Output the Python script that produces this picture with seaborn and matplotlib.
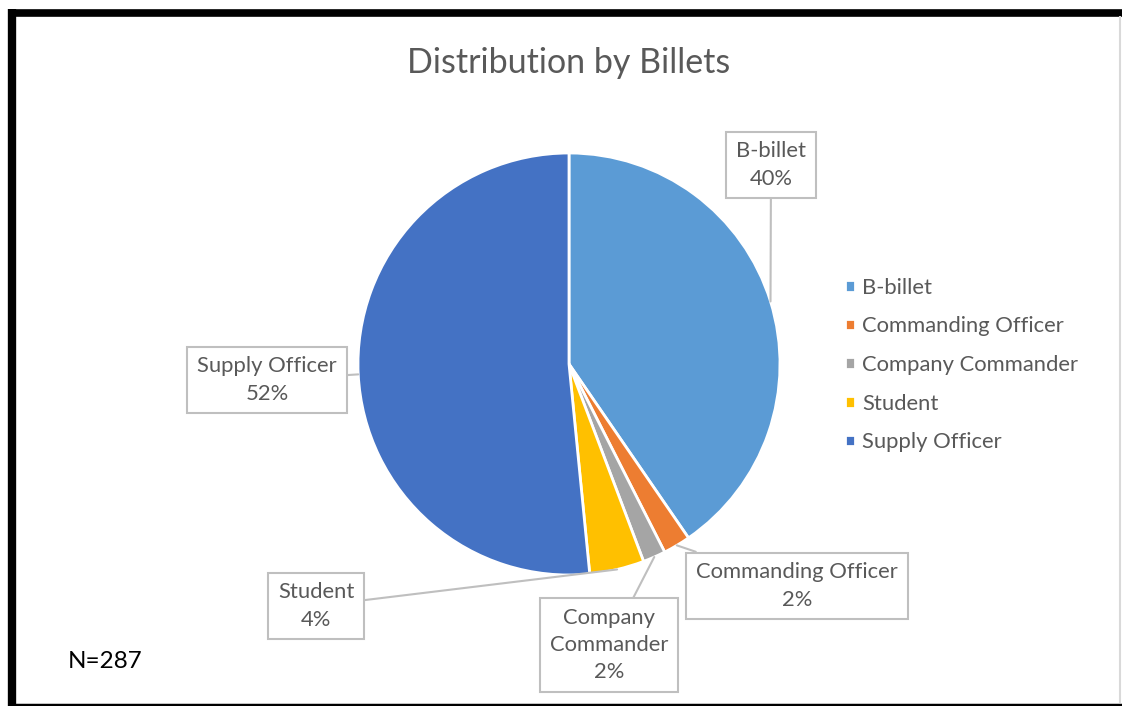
import matplotlib
matplotlib.use("Agg")
import matplotlib.pyplot as plt
from matplotlib.lines import Line2D
import numpy as np
import seaborn as sns

# data
billets = ['B-billet', 'Commanding Officer', 'Company Commander', 'Student', 'Supply Officer']
counts = [116, 6, 5, 12, 148]   # N=287
label_text = ['B-billet\n40%', 'Commanding Officer\n2%', 'Company\nCommander\n2%',
              'Student\n4%', 'Supply Officer\n52%']
colors = ['#5B9BD5', '#ED7D31', '#A5A5A5', '#FFC000', '#4472C4']

sns.set_theme(style='white')
plt.rcParams['font.family'] = ['Lato', 'DejaVu Sans']
txt_col = '#595959'

W, H = 1122, 706
fig = plt.figure(figsize=(W / 100, H / 100), dpi=100)
fig.patch.set_facecolor('white')

# pie centre (569, 364) radius 211 in pixels from top-left
cx, cy, r = 569, 364, 211
ax = fig.add_axes([(cx - r) / W, (H - cy - r) / H, 2 * r / W, 2 * r / H])
wedges, _ = ax.pie(counts, colors=sns.color_palette(colors), startangle=90, counterclock=False,
                   wedgeprops=dict(edgecolor='white', linewidth=2))
ax.set_xlim(-1, 1)
ax.set_ylim(-1, 1)
ax.set_aspect('equal')
ax.axis('off')

fig.text(cx / W, 1 - 63 / H, 'Distribution by Billets', ha='center', va='center',
         fontsize=24.5, color=txt_col)

# callout boxes (centre of box in pixels from top-left)
box_pos = [(771, 165), (797, 586), (609, 645), (316, 606), (267, 380)]
for w, lab, (bx, by) in zip(wedges, label_text, box_pos):
    ang = np.deg2rad((w.theta1 + w.theta2) / 2)
    px, py = np.cos(ang), np.sin(ang)
    ax.annotate(lab, xy=(px, py), xycoords='data',
                xytext=(bx, H - by), textcoords='figure pixels',
                ha='center', va='center', fontsize=15.8, color=txt_col,
                linespacing=1.45,
                bbox=dict(boxstyle='square,pad=0.45', fc='white', ec='#BFBFBF', lw=1.5),
                arrowprops=dict(arrowstyle='-', color='#BFBFBF', lw=1.5,
                                shrinkA=0, shrinkB=0),
                annotation_clip=False)

leg = fig.legend(wedges, billets, loc='center left', bbox_to_anchor=(825 / W, 1 - 365 / H),
                 frameon=False, fontsize=15.8, labelcolor=txt_col,
                 handlelength=0.45, handleheight=0.45, handletextpad=0.35,
                 labelspacing=0.85)

fig.text(105 / W, 1 - 661 / H, 'N=287', ha='center', va='center', fontsize=17.5, color='black')

# frame around the chart
fig.add_artist(Line2D([12 / W, 12 / W], [0, 1 - 9 / H], color='black', lw=6,
                      solid_capstyle='butt'))
fig.add_artist(Line2D([8 / W, 1], [1 - 12.5 / H, 1 - 12.5 / H], color='black', lw=5.5,
                      solid_capstyle='butt'))
fig.add_artist(Line2D([8 / W, 1], [1.5 / H, 1.5 / H], color='black', lw=2.5,
                      solid_capstyle='butt'))
fig.add_artist(Line2D([1119.5 / W, 1119.5 / W], [3 / H, 1 - 16 / H], color='#D9D9D9', lw=1.5,
                      solid_capstyle='butt'))

fig.savefig('out.png', dpi=100, facecolor='white')
